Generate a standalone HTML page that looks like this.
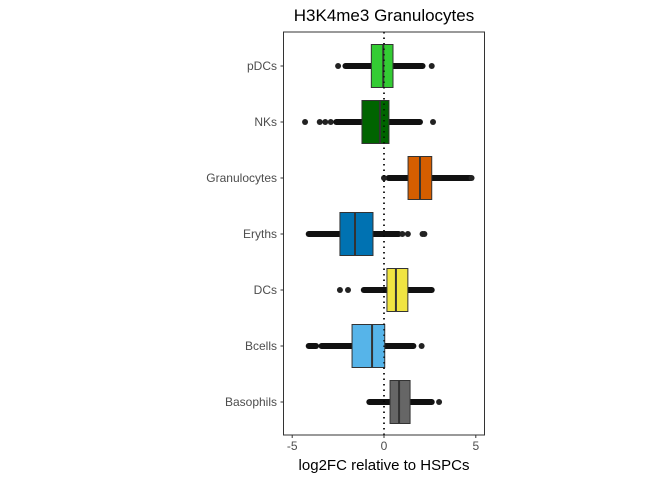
<!DOCTYPE html>
<html><head><meta charset="utf-8"><style>
body{margin:0;background:#fff;}
svg text{font-family:"Liberation Sans",sans-serif;}
</style></head><body>
<svg id="chart" width="672" height="480"></svg>
<script>
const categories=["pDCs","NKs","Granulocytes","Eryths","DCs","Bcells","Basophils"];
const q1=[-0.69,-1.2,1.31,-2.4,0.16,-1.74,0.33];
const medians=[-0.04,-0.22,1.96,-1.58,0.65,-0.65,0.82];
const q3=[0.49,0.27,2.6,-0.6,1.3,0.04,1.42];
const denseRanges=[[[-2.1,2.1]],[[-2.6,1.96]],[[0.25,4.7]],[[-4.1,0.8]],[[-1.1,2.6]],[[-4.1,-3.7],[-3.4,1.6]],[[-0.8,2.6]]];
const outliers=[[-2.5,2.6],[-4.3,-3.5,-3.2,-2.9,2.67],[0,4.77],[1.0,1.3,2.1,2.2],[-2.4,-1.96],[2.05],[3.0]];
const colors=["#33cc33","#006400","#D55E00","#0072B2","#F0E442","#56B4E9","#666666"];
const xTicks=[-5,0,5];
const svg=document.getElementById('chart');
const NS="http://www.w3.org/2000/svg";
const L=283.5,R=484.5,T=32,B=435;
const x=v=>384+v*18.36;
const y=i=>66+i*56;
function mk(t,a,p){const e=document.createElementNS(NS,t);for(const k in a)e.setAttribute(k,a[k]);(p||svg).appendChild(e);return e;}
const title=mk('text',{x:384,y:21,'text-anchor':'middle','font-size':17,fill:'#000'});title.textContent="H3K4me3 Granulocytes";


const zl=mk('line',{x1:x(0),x2:x(0),y1:T,y2:B,stroke:'#000','stroke-width':1.5,'stroke-dasharray':'1.5,4'});


categories.forEach((c,i)=>{
  const g=mk('g',{});
  
  
  const yy=y(i);
  const all=denseRanges[i].flat();
  mk('line',{x1:x(Math.min(...all)),x2:x(Math.max(...all)),y1:yy,y2:yy,stroke:'#000','stroke-width':1},g);
  denseRanges[i].forEach(r=>mk('line',{x1:x(r[0]),x2:x(r[1]),y1:yy,y2:yy,stroke:'#111','stroke-width':6,'stroke-linecap':'round'},g));
  outliers[i].forEach(v=>mk('circle',{cx:x(v),cy:yy,r:3,fill:'#222'},g));
  mk('rect',{x:x(q1[i]),y:yy-21.5,width:x(q3[i])-x(q1[i]),height:43,fill:colors[i],stroke:'#333','stroke-width':1},g);
  mk('line',{x1:x(medians[i]),x2:x(medians[i]),y1:yy-21.5,y2:yy+21.5,stroke:'#333','stroke-width':2},g);
  const t=mk('text',{x:277,y:yy+4,'text-anchor':'end','font-size':12,fill:'#4d4d4d'});t.textContent=c;
  
  
  mk('line',{x1:L-3,x2:L,y1:yy,y2:yy,stroke:'#333'});
});
mk('line',{x1:x(0),x2:x(0),y1:T,y2:B,stroke:'#000','stroke-width':1.5,'stroke-dasharray':'1.5,4','opacity':0.8});
const panel=mk('rect',{x:L,y:T,width:R-L,height:B-T,fill:'none',stroke:'#333','stroke-width':1});


xTicks.forEach(v=>{
  mk('line',{x1:x(v),x2:x(v),y1:B,y2:B+3,stroke:'#333'});
  const t=mk('text',{x:x(v),y:B+15,'text-anchor':'middle','font-size':12,fill:'#4d4d4d'});t.textContent=v;
  
  
});
const xt=mk('text',{x:384,y:470,'text-anchor':'middle','font-size':15,fill:'#000'});xt.textContent="log2FC relative to HSPCs";


</script>
</body></html>
